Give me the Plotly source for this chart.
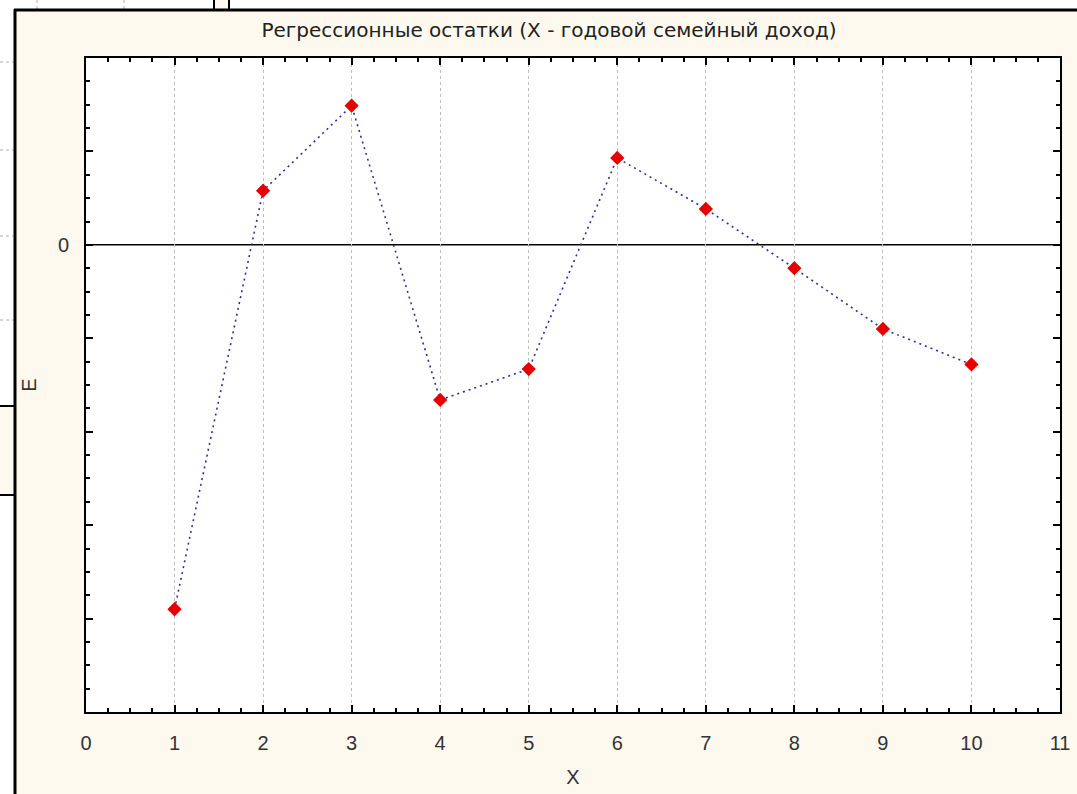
import plotly.graph_objects as go

# Data
x_vals = [1, 2, 3, 4, 5, 6, 7, 8, 9, 10]
residuals = [-3.90, 0.58, 1.49, -1.66, -1.33, 0.93, 0.385, -0.25, -0.90, -1.28]
title_text = "Регрессионные остатки (X - годовой семейный доход)"
x_title = "X"
y_title = "E"
y_major = [-5, -4, -3, -2, -1, 0, 1, 2]
y_labels = ["", "", "", "", "", "0", "", ""]

W, H = 1077, 794
L, R, T, B = 86, 1060, 58, 712


def px(x):
    return (x - L) / (R - L)


def py(y):
    return (B - y) / (B - T)


cream = "#FDF9EE"
font_family = "DejaVu Sans, Liberation Sans, Arial, sans-serif"
tick_font = "Liberation Sans, Arial, sans-serif"

fig = go.Figure()
fig.add_trace(go.Scatter(
    x=x_vals, y=residuals, mode="lines+markers",
    line=dict(color="#2E2E9E", width=1.6, dash="2px,4px"),
    marker=dict(symbol="diamond", size=11, color="#E60000",
                line=dict(width=0)),
    showlegend=False, cliponaxis=False,
))

shapes = []
# white strips outside the frame
shapes.append(dict(type="rect", xref="paper", yref="paper", x0=px(0), x1=px(15),
                   y0=py(0), y1=py(W), fillcolor="white", line_width=0, layer="below"))
shapes.append(dict(type="rect", xref="paper", yref="paper", x0=px(0), x1=px(W),
                   y0=py(0), y1=py(10), fillcolor="white", line_width=0, layer="below"))
# cream box on the left strip
shapes.append(dict(type="rect", xref="paper", yref="paper", x0=px(-5), x1=px(15),
                   y0=py(406), y1=py(495), fillcolor=cream,
                   line=dict(color="black", width=2), layer="below"))
# grey dotted lines on the left strip
for yy in [62, 150, 236, 320]:
    shapes.append(dict(type="line", xref="paper", yref="paper", x0=px(0), x1=px(14),
                       y0=py(yy), y1=py(yy), line=dict(color="#B0B0B0", width=1, dash="dot")))
# dotted lines in the top strip
for xx in [37, 124]:
    shapes.append(dict(type="line", xref="paper", yref="paper", x0=px(xx), x1=px(xx),
                       y0=py(0), y1=py(9), line=dict(color="#B0B0B0", width=1, dash="dot")))
# small box on top
shapes.append(dict(type="rect", xref="paper", yref="paper", x0=px(214), x1=px(229),
                   y0=py(-2), y1=py(10), fillcolor=cream,
                   line=dict(color="black", width=2)))
# frame border
shapes.append(dict(type="line", xref="paper", yref="paper", x0=px(15), x1=px(15),
                   y0=py(9), y1=py(H + 5), line=dict(color="black", width=3)))
shapes.append(dict(type="line", xref="paper", yref="paper", x0=px(14), x1=px(W + 5),
                   y0=py(10), y1=py(10), line=dict(color="black", width=3)))
# zero line
shapes.append(dict(type="line", xref="paper", yref="y", x0=0, x1=1, y0=0, y1=0,
                   line=dict(color="black", width=1.5), layer="below"))

fig.update_layout(
    width=W, height=H,
    margin=dict(l=L, r=W - R, t=T, b=H - B, autoexpand=False),
    paper_bgcolor=cream, plot_bgcolor="white",
    shapes=shapes,
    title=dict(text=title_text, x=549 / W, xanchor="center", y=1 - 30 / H,
               yanchor="middle", font=dict(family=font_family, size=20, color="#222")),
    font=dict(family=tick_font, size=20, color="#333"),
)

fig.update_xaxes(
    range=[0, 11], dtick=1, tick0=0, automargin=False,
    showline=True, linecolor="black", linewidth=2, mirror="ticks",
    ticks="inside", ticklen=7, tickcolor="black", tickwidth=1.5,
    minor=dict(dtick=0.25, ticks="inside", ticklen=4, tickcolor="black", showgrid=False),
    showgrid=True, gridcolor="#BDBDBD", griddash="dot", gridwidth=1,
    zeroline=False, ticklabelstandoff=12,
    title=dict(text=x_title, standoff=17, font=dict(size=20)),
)
fig.update_yaxes(
    range=[-5, 2], tickvals=y_major, ticktext=y_labels, automargin=False,
    showline=True, linecolor="black", linewidth=2, mirror="ticks",
    ticks="inside", ticklen=7, tickcolor="black", tickwidth=1.5,
    minor=dict(dtick=0.25, tick0=0, ticks="inside", ticklen=4, tickcolor="black", showgrid=False),
    showgrid=False, zeroline=False, ticklabelstandoff=11,
    title=dict(text=y_title, standoff=16, font=dict(size=20)),
)

fig.write_html("out.html")
